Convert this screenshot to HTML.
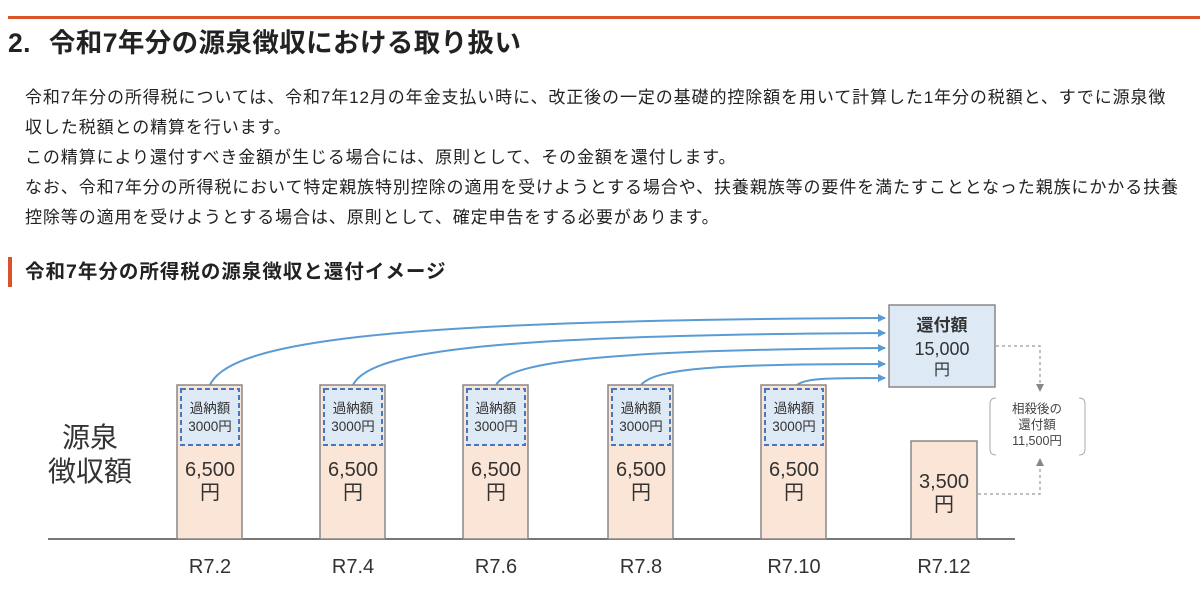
<!DOCTYPE html>
<html><head><meta charset="utf-8"><style>
body{margin:0;width:1200px;height:589px;background:#fff;overflow:hidden;font-family:"Liberation Sans","Noto Sans CJK JP",sans-serif;color:#222;position:relative}
.rule{position:absolute;left:8px;top:16px;width:1192px;height:3px;background:#d9532b}
h1{position:absolute;left:8px;top:26px;margin:0;font-size:26.5px;letter-spacing:0.4px;font-weight:bold;line-height:34px}
.p{position:absolute;left:25px;top:83px;font-size:17px;letter-spacing:0.9px;line-height:30px;margin:0;width:1175px;white-space:nowrap}
.sub{position:absolute;left:8px;top:257px;border-left:4px solid #d9532b;padding-left:13px;font-size:19.5px;letter-spacing:1px;font-weight:bold;line-height:30px}
svg{position:absolute;left:0;top:0}
</style></head><body>
<div class="rule"></div>
<h1>2.<span style="display:inline-block;width:18px"></span>令和7年分の源泉徴収における取り扱い</h1>
<div class="p">令和7年分の所得税については、令和7年12月の年金支払い時に、改正後の一定の基礎的控除額を用いて計算した1年分の税額と、すでに源泉徴<br>収した税額との精算を行います。<br>この精算により還付すべき金額が生じる場合には、原則として、その金額を還付します。<br>なお、令和7年分の所得税において特定親族特別控除の適用を受けようとする場合や、扶養親族等の要件を満たすこととなった親族にかかる扶養<br>控除等の適用を受けようとする場合は、原則として、確定申告をする必要があります。</div>
<div class="sub">令和7年分の所得税の源泉徴収と還付イメージ</div>
<svg width="1200" height="589" font-family="Liberation Sans, Noto Sans CJK JP, sans-serif">
<defs><marker id="a" markerWidth="8" markerHeight="8" refX="7" refY="4" orient="auto" markerUnits="userSpaceOnUse"><path d="M0,0L8,4L0,8z" fill="#5b9bd5"/></marker></defs>
<text x="90" y="447" font-size="28" text-anchor="middle" fill="#333">源泉</text>
<text x="90" y="481" font-size="28" text-anchor="middle" fill="#333">徴収額</text>
<line x1="48" y1="539" x2="1015" y2="539" stroke="#777" stroke-width="2"/>
<g fill="none" stroke="#5b9bd5" stroke-width="2" marker-end="url(#a)">
<path d="M210,385 C230,340 400,320 885,318"/>
<path d="M353,385 C370,350 500,335 885,333"/>
<path d="M496,385 C510,360 620,350 885,348"/>
<path d="M641,385 C655,368 720,364 885,364"/>
<path d="M797,385 C805,378 830,378 885,378"/>
</g>
<g stroke="#888" stroke-width="1.5" fill="#fbe5d6">
<rect x="177" y="385" width="65" height="154"/><rect x="320" y="385" width="65" height="154"/><rect x="463" y="385" width="65" height="154"/><rect x="608" y="385" width="65" height="154"/><rect x="761" y="385" width="65" height="154"/><rect x="911" y="441" width="66" height="98"/>
</g>
<g stroke="#4a76c0" stroke-width="2" stroke-dasharray="5,3" fill="#dde9f5">
<rect x="181" y="389" width="58" height="56"/><rect x="324" y="389" width="58" height="56"/><rect x="467" y="389" width="58" height="56"/><rect x="612" y="389" width="58" height="56"/><rect x="765" y="389" width="58" height="56"/>
</g>
<g text-anchor="middle" fill="#333">
<g font-size="13.5"><text x="210" y="413">過納額</text><text x="210" y="431">3000円</text><text x="353" y="413">過納額</text><text x="353" y="431">3000円</text><text x="496" y="413">過納額</text><text x="496" y="431">3000円</text><text x="641" y="413">過納額</text><text x="641" y="431">3000円</text><text x="794" y="413">過納額</text><text x="794" y="431">3000円</text></g>
<g font-size="20"><text x="210" y="476">6,500</text><text x="210" y="499">円</text><text x="353" y="476">6,500</text><text x="353" y="499">円</text><text x="496" y="476">6,500</text><text x="496" y="499">円</text><text x="641" y="476">6,500</text><text x="641" y="499">円</text><text x="794" y="476">6,500</text><text x="794" y="499">円</text><text x="944" y="488">3,500</text><text x="944" y="511">円</text></g>
<g font-size="20"><text x="210" y="573">R7.2</text><text x="353" y="573">R7.4</text><text x="496" y="573">R7.6</text><text x="641" y="573">R7.8</text><text x="794" y="573">R7.10</text><text x="944" y="573">R7.12</text></g>
</g>
<rect x="889" y="305" width="106" height="82" fill="#dde9f5" stroke="#888" stroke-width="1.5"/>
<g text-anchor="middle" fill="#333"><text x="942" y="331" font-size="17" font-weight="bold">還付額</text><text x="942" y="355" font-size="18">15,000</text><text x="942" y="375" font-size="16">円</text></g>
<g fill="none" stroke="#aaa" stroke-width="1.5" stroke-dasharray="3,3">
<path d="M996,346H1040V384"/>
<path d="M978,494H1040V466"/>
</g>
<path d="M1036,384L1044,384L1040,392z" fill="#888"/>
<path d="M1036,466L1044,466L1040,458z" fill="#888"/>
<path d="M996,398q-6,0 -6,6v45q0,6 6,6M1079,398q6,0 6,6v45q0,6 -6,6" fill="none" stroke="#aaa" stroke-width="1"/>
<g text-anchor="middle" fill="#444" font-size="12.5"><text x="1037" y="413">相殺後の</text><text x="1037" y="429">還付額</text><text x="1037" y="445">11,500円</text></g>
</svg>
</body></html>
